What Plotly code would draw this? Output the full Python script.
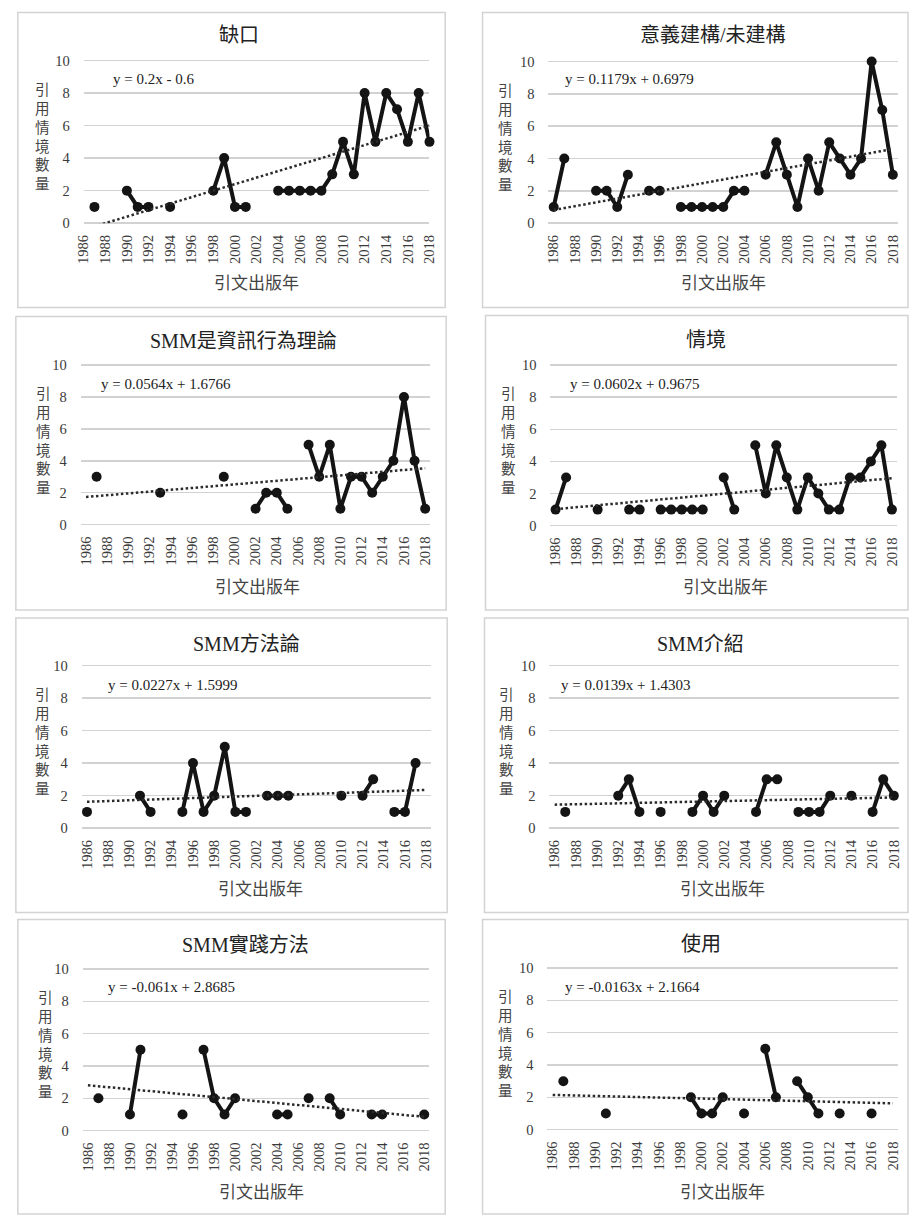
import numpy as np
import plotly.graph_objects as go

W, H = 914, 1218

# ---------------- data ----------------
years = list(range(1986, 2019))
year_ticks = list(range(1986, 2019, 2))
y_ticks = [0, 2, 4, 6, 8, 10]
N = None

titles = ["缺口", "意義建構/未建構", "SMM是資訊行為理論", "情境",
          "SMM方法論", "SMM介紹", "SMM實踐方法", "使用"]

equations = ["y = 0.2x - 0.6", "y = 0.1179x + 0.6979", "y = 0.0564x + 1.6766",
             "y = 0.0602x + 0.9675", "y = 0.0227x + 1.5999", "y = 0.0139x + 1.4303",
             "y = -0.061x + 2.8685", "y = -0.0163x + 2.1664"]

# values per year 1986..2018 (None = no citation that year)
gap_vals = [N, 1, N, N, 2, 1, 1, N, 1, N,
            N, N, 2, 4, 1, 1, N, N, 2, 2,
            2, 2, 2, 3, 5, 3, 8, 5, 8, 7,
            5, 8, 5]
sense_vals = [1, 4, N, N, 2, 2, 1, 3, N, 2,
              2, N, 1, 1, 1, 1, 1, 2, 2, N,
              3, 5, 3, 1, 4, 2, 5, 4, 3, 4,
              10, 7, 3]
theory_vals = [N, 3, N, N, N, N, N, 2, N, N,
               N, N, N, 3, N, N, 1, 2, 2, 1,
               N, 5, 3, 5, 1, 3, 3, 2, 3, 4,
               8, 4, 1]
situation_vals = [1, 3, N, N, 1, N, N, 1, 1, N,
                  1, 1, 1, 1, 1, N, 3, 1, N, 5,
                  2, 5, 3, 1, 3, 2, 1, 1, 3, 3,
                  4, 5, 1]
method_vals = [1, N, N, N, N, 2, 1, N, N, 1,
               4, 1, 2, 5, 1, 1, N, 2, 2, 2,
               N, N, N, N, 2, N, 2, 3, N, 1,
               1, 4, N]
intro_vals = [N, 1, N, N, N, N, 2, 3, 1, N,
              1, N, N, 1, 2, 1, 2, N, N, 1,
              3, 3, N, 1, 1, 1, 2, N, 2, N,
              1, 3, 2]
practice_vals = [N, 2, N, N, 1, 5, N, N, N, 1,
                 N, 5, 2, 1, 2, N, N, N, 1, 1,
                 N, 2, N, 2, 1, N, N, 1, 1, N,
                 N, N, 1]
use_vals = [N, 3, N, N, N, 1, N, N, N, N,
            N, N, N, 2, 1, 1, 2, N, 1, N,
            5, 2, N, 3, 2, 1, N, 1, N, N,
            1, N, N]

series = [gap_vals, sense_vals, theory_vals, situation_vals,
          method_vals, intro_vals, practice_vals, use_vals]

y_title = "引用情境數量"
x_title = "引文出版年"

# ---------------- layout geometry (pixels) ----------------
# plot: (x_left, x_right, y_at_10, y_at_0); box: (x0, x1, y0, y1)
geo = [
    dict(plot=(77, 429, 59, 223), on_tick=True, box=(10, 445, 10.5, 308),
         title=(235, 33), eq=(105, 78), ytx=35, xt=(253, 282)),
    dict(plot=(550, 906, 60, 223), on_tick=False, box=(483, 916, 10.5, 308),
         title=(718, 33), eq=(565, 78), ytx=506, xt=(728, 282)),
    dict(plot=(74, 430, 366, 527), on_tick=False, box=(8, 446, 317, 613),
         title=(240, 342), eq=(93, 385), ytx=36, xt=(254, 588)),
    dict(plot=(552, 905, 366, 528), on_tick=False, box=(486, 916, 316, 613),
         title=(710, 341), eq=(570, 385), ytx=509, xt=(730, 588)),
    dict(plot=(75, 431, 669, 833), on_tick=False, box=(8, 447, 621, 918),
         title=(243, 647), eq=(100, 689), ytx=35, xt=(257, 893)),
    dict(plot=(551, 907, 669, 833), on_tick=False, box=(485, 916, 621, 918),
         title=(705, 647), eq=(561, 689), ytx=507, xt=(727, 893)),
    dict(plot=(76, 429, 975, 1138), on_tick=False, box=(10, 445, 925, 1222),
         title=(242, 951), eq=(100, 993), ytx=38, xt=(258, 1198)),
    dict(plot=(549, 906, 974, 1137), on_tick=False, box=(483, 916, 925, 1222),
         title=(705, 950), eq=(565, 993), ytx=506, xt=(727, 1198)),
]

SERIF = "Liberation Serif, Noto Sans CJK TC"
CJK = "Noto Sans CJK TC"
TXT = "#3a3a3a"
GRID = "#d2d2d2"
INK = "#141414"

def px(x):
    return x / W

def py(y):
    return 1 - y / H

fig = go.Figure()
annotations = []
shapes = []
YMAX = 10.35

for k, (vals, g) in enumerate(zip(series, geo)):
    idx = "" if k == 0 else str(k + 1)
    xa, ya = "x" + idx, "y" + idx
    x0, x1, y10, y0 = g["plot"]
    unit = (y0 - y10) / 10.0
    ytop = y10 - (YMAX - 10) * unit

    # data line
    fig.add_trace(go.Scatter(
        x=years, y=vals, mode="lines+markers", connectgaps=False,
        line=dict(color=INK, width=4),
        marker=dict(size=10, color=INK),
        cliponaxis=False, showlegend=False, hoverinfo="skip",
        xaxis=xa, yaxis=ya))

    # linear trendline (least squares on category index, as in Excel)
    xi = np.array([i + 1 for i, v in enumerate(vals) if v is not None], float)
    yi = np.array([v for v in vals if v is not None], float)
    a, b = np.polyfit(xi, yi, 1)
    idx_all = np.arange(1, len(years) + 1)
    fig.add_trace(go.Scatter(
        x=years, y=a * idx_all + b, mode="lines",
        line=dict(color="#2b2b2b", width=2.5, dash="2.5px,2.5px"),
        showlegend=False, hoverinfo="skip", xaxis=xa, yaxis=ya))

    xr = [1986, 2018] if g["on_tick"] else [1985.5, 2018.5]
    fig.layout["xaxis" + idx] = dict(
        domain=[px(x0), px(x1)], range=xr, anchor=ya,
        tickmode="array", tickvals=year_ticks,
        ticktext=[str(t) for t in year_ticks], tickangle=-90,
        ticks="outside", ticklen=5, tickcolor="rgba(0,0,0,0)",
        tickfont=dict(family=SERIF, size=14.5, color=TXT),
        showgrid=False, zeroline=False, showline=False, fixedrange=True)
    fig.layout["yaxis" + idx] = dict(
        domain=[py(y0), py(ytop)], range=[0, YMAX], anchor=xa,
        tickmode="array", tickvals=y_ticks,
        ticks="outside", ticklen=10, tickcolor="rgba(0,0,0,0)",
        tickfont=dict(family=SERIF, size=14.5, color=TXT),
        showgrid=True, gridcolor=GRID, gridwidth=1.4,
        zeroline=True, zerolinecolor=GRID, zerolinewidth=1.4,
        showline=False, fixedrange=True)

    # panel frame
    bx0, bx1, by0, by1 = g["box"]
    shapes.append(dict(type="rect", xref="paper", yref="paper",
                       x0=px(bx0), x1=px(bx1), y0=py(by1), y1=py(by0),
                       line=dict(color="#d3d3d3", width=1.5), layer="below"))

    # title
    tx, ty = g["title"]
    annotations.append(dict(text=titles[k], x=px(tx), y=py(ty), xref="paper", yref="paper",
                            xanchor="center", yanchor="middle", showarrow=False,
                            font=dict(family=SERIF, size=20, color="#222222")))
    # equation
    ex, ey = g["eq"]
    annotations.append(dict(text=equations[k], x=px(ex), y=py(ey), xref="paper", yref="paper",
                            xanchor="left", yanchor="middle", showarrow=False,
                            font=dict(family=SERIF, size=15, color="#222222")))
    # vertical y-axis title, stacked characters
    annotations.append(dict(text="<br>".join(y_title), x=px(g["ytx"]),
                            y=py(y10 + 31 + 2.5 * 17.7),
                            xref="paper", yref="paper", xanchor="center", yanchor="middle",
                            showarrow=False, font=dict(family=CJK, size=14.5, color="#444444")))
    # x-axis title
    xtx, xty = g["xt"]
    annotations.append(dict(text=x_title, x=px(xtx), y=py(xty), xref="paper", yref="paper",
                            xanchor="center", yanchor="middle", showarrow=False,
                            font=dict(family=CJK, size=17, color="#444444")))

fig.update_layout(width=W, height=H, margin=dict(l=0, r=0, t=0, b=0),
                  paper_bgcolor="white", plot_bgcolor="white",
                  annotations=annotations, shapes=shapes, showlegend=False)

fig.write_html("out.html", config={"displayModeBar": False, "staticPlot": True},
               post_script="document.body.style.margin='0';document.body.style.overflow='hidden';")
